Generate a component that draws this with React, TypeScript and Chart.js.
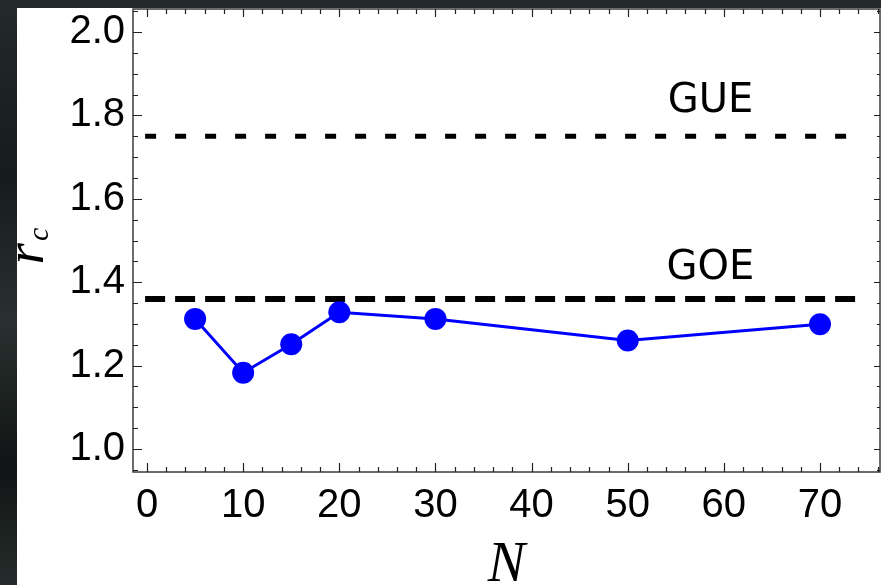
import React, { useEffect, useRef } from 'react';
import { Chart, registerables } from 'chart.js';

Chart.register(...registerables);

// ---- data ----
const nValues = [5, 10, 15, 20, 30, 50, 70];
const rcValues = [1.312, 1.183, 1.251, 1.328, 1.312, 1.26, 1.299];
const gueLevel = 1.75;
const goeLevel = 1.36;
const refSpan = [-0.2, 73.8];
const refLabels = ['GUE', 'GOE'];
const refLabelX = 58.6;
const xTickValues = [0, 10, 20, 30, 40, 50, 60, 70];
const yTickValues = [1.0, 1.2, 1.4, 1.6, 1.8, 2.0];
const xRange = [-1.46, 76.24];
const yRange = [0.9448, 2.0552];
const xTitle = 'N';
const yTitleMain = 'r';
const yTitleSub = 'c';

const refLines = [
  { level: gueLevel, width: 5, dash: [11, 19] },
  { level: goeLevel, width: 6, dash: [20, 10] },
];

const decorPlugin = {
  id: 'decor',
  beforeDraw(chart: any) {
    const ctx = chart.ctx;
    ctx.save();
    const g = ctx.createLinearGradient(0, 0, 0, chart.height);
    g.addColorStop(0, '#232a29');
    g.addColorStop(0.3, '#161b1b');
    g.addColorStop(0.55, '#2a302f');
    g.addColorStop(0.8, '#101414');
    g.addColorStop(1, '#262c2b');
    ctx.fillStyle = g;
    ctx.fillRect(0, 0, chart.width, chart.height);
    ctx.fillStyle = '#ffffff';
    ctx.fillRect(17, 8, chart.width - 17, chart.height - 8);
    ctx.restore();
  },
  beforeDatasetsDraw(chart: any) {
    const ctx = chart.ctx;
    const x = chart.scales.x;
    const y = chart.scales.y;
    ctx.save();
    ctx.strokeStyle = '#000';
    ctx.lineCap = 'butt';
    for (const r of refLines) {
      const py = y.getPixelForValue(r.level);
      ctx.lineWidth = r.width;
      ctx.setLineDash(r.dash);
      ctx.lineDashOffset = 0;
      ctx.beginPath();
      ctx.moveTo(x.getPixelForValue(refSpan[0]), py);
      ctx.lineTo(x.getPixelForValue(refSpan[1]), py);
      ctx.stroke();
    }
    ctx.restore();
  },
  afterDatasetsDraw(chart: any) {
    const ctx = chart.ctx;
    const { left, right, top, bottom } = chart.chartArea;
    const x = chart.scales.x;
    const y = chart.scales.y;
    ctx.save();
    ctx.strokeStyle = '#3c3c3c';
    ctx.lineWidth = 1.5;
    ctx.strokeRect(left, top, right - left, bottom - top);
    ctx.strokeStyle = '#222';
    ctx.lineWidth = 1.2;
    ctx.beginPath();
    for (let i = Math.ceil(x.min / 2); i * 2 <= x.max; i++) {
      const v = i * 2;
      const px = Math.round(x.getPixelForValue(v)) + 0.5;
      const major = v % 10 === 0;
      ctx.moveTo(px, bottom);
      ctx.lineTo(px, bottom - (major ? 9 : 5));
      ctx.moveTo(px, top);
      ctx.lineTo(px, top + (major ? 8 : 5));
    }
    for (let i = Math.ceil(y.min / 0.05); i * 0.05 <= y.max + 1e-9; i++) {
      const v = i * 0.05;
      const py = Math.round(y.getPixelForValue(v)) + 0.5;
      const major = i % 4 === 0;
      ctx.moveTo(left, py);
      ctx.lineTo(left + (major ? 9 : 5), py);
      ctx.moveTo(right, py);
      ctx.lineTo(right - (major ? 6 : 3), py);
    }
    ctx.stroke();
    ctx.restore();
  },
  afterDraw(chart: any) {
    const ctx = chart.ctx;
    const { left, right, top, bottom } = chart.chartArea;
    const x = chart.scales.x;
    const y = chart.scales.y;
    ctx.save();
    ctx.fillStyle = '#000';
    ctx.font = '40px "DejaVu Sans"';
    ctx.textAlign = 'center';
    ctx.textBaseline = 'alphabetic';
    ctx.fillText(refLabels[0], x.getPixelForValue(refLabelX), y.getPixelForValue(gueLevel) - 24);
    ctx.fillText(refLabels[1], x.getPixelForValue(refLabelX), y.getPixelForValue(goeLevel) - 20);
    ctx.font = 'italic 56px "Liberation Serif"';
    ctx.fillText(xTitle, (left + right) / 2, 581);
    const cy = (top + bottom) / 2;
    ctx.translate(43, cy + 24);
    ctx.rotate(-Math.PI / 2);
    ctx.textAlign = 'left';
    ctx.font = 'italic 55px "Liberation Serif"';
    ctx.fillText(yTitleMain, 0, 0);
    const rw = ctx.measureText(yTitleMain).width;
    ctx.font = 'italic 30px "Liberation Serif"';
    ctx.fillText(yTitleSub, rw + 2, 5);
    ctx.restore();
  },
};

export default function App() {
  const ref = useRef<HTMLCanvasElement>(null);
  useEffect(() => {
    if (!ref.current) return;
    const chart = new Chart(ref.current, {
      type: 'line',
      data: {
        datasets: [
          {
            data: nValues.map((n, i) => ({ x: n, y: rcValues[i] })),
            borderColor: '#0000ff',
            backgroundColor: '#0000ff',
            borderWidth: 3,
            pointRadius: 11,
            pointBorderWidth: 0,
            pointBackgroundColor: '#0000ff',
          },
        ],
      },
      options: {
        animation: false,
        responsive: false,
        layout: { autoPadding: false, padding: { left: 0, top: 9, right: 1, bottom: 0 } },
        plugins: { legend: { display: false }, tooltip: { enabled: false } },
        scales: {
          x: {
            type: 'linear',
            min: xRange[0],
            max: xRange[1],
            grid: { display: false, drawTicks: false },
            border: { display: false },
            ticks: {
              font: { family: '"Liberation Sans"', size: 40 },
              color: '#000',
              padding: 10,
              maxRotation: 0,
              autoSkip: false,
            },
            afterBuildTicks: (s: any) => {
              s.ticks = xTickValues.map((v) => ({ value: v }));
            },
            afterFit: (s: any) => {
              s.height = 113;
              s.paddingLeft = 0;
              s.paddingRight = 0;
            },
          },
          y: {
            type: 'linear',
            min: yRange[0],
            max: yRange[1],
            grid: { display: false, drawTicks: false },
            border: { display: false },
            ticks: {
              font: { family: '"Liberation Sans"', size: 40 },
              color: '#000',
              padding: 8,
              autoSkip: false,
              callback: (v: any) => Number(v).toFixed(1),
            },
            afterBuildTicks: (s: any) => {
              s.ticks = yTickValues.map((v) => ({ value: v }));
            },
            afterFit: (s: any) => {
              s.width = 133;
              s.paddingTop = 0;
              s.paddingBottom = 0;
            },
          },
        },
      },
      plugins: [decorPlugin],
    } as any);
    return () => chart.destroy();
  }, []);
  return (
    <canvas
      ref={ref}
      width={881}
      height={585}
      style={{ position: 'fixed', left: 0, top: 0, display: 'block' }}
    />
  );
}
